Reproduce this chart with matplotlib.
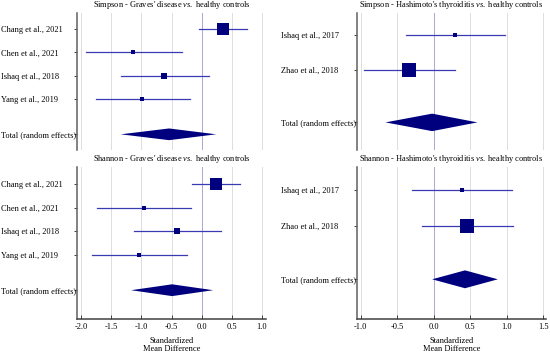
import matplotlib
matplotlib.use("Agg")
import matplotlib.pyplot as plt
import numpy as np

plt.rcParams['font.family'] = ['Liberation Serif', 'DejaVu Serif']
plt.rcParams['mathtext.fontset'] = 'custom'
plt.rcParams['mathtext.rm'] = 'Liberation Serif'
plt.rcParams['mathtext.it'] = 'Liberation Serif:italic'

# Graves' disease studies
graves_studies = ["Chang et al., 2021", "Chen et al., 2021", "Ishaq et al., 2018", "Yang et al., 2019"]
simpson_graves_smd = [0.35, -1.13, -0.62, -0.99]
simpson_graves_lo = [-0.05, -1.92, -1.34, -1.75]
simpson_graves_hi = [0.75, -0.32, 0.12, -0.20]
simpson_graves_w = [65, 7, 16, 11]
simpson_graves_total = (-0.54, -1.34, 0.24)

shannon_graves_smd = [0.23, -0.96, -0.41, -1.04]
shannon_graves_lo = [-0.16, -1.74, -1.12, -1.81]
shannon_graves_hi = [0.64, -0.17, 0.32, -0.25]
shannon_graves_w = [70, 7, 14, 9]
shannon_graves_total = (-0.49, -1.17, 0.19)

# Hashimoto's thyroiditis studies
hashi_studies = ["Ishaq et al., 2017", "Zhao et al., 2018"]
simpson_hashi_smd = [0.29, -0.34]
simpson_hashi_lo = [-0.38, -0.96]
simpson_hashi_hi = [0.98, 0.29]
simpson_hashi_w = [6, 94]
simpson_hashi_total = (-0.02, -0.66, 0.60)

shannon_hashi_smd = [0.39, 0.46]
shannon_hashi_lo = [-0.30, -0.16]
shannon_hashi_hi = [1.07, 1.09]
shannon_hashi_w = [8, 92]
shannon_hashi_total = (0.43, -0.02, 0.88)

graves_ticks = [-2.0, -1.5, -1.0, -0.5, 0.0, 0.5, 1.0]
hashi_ticks = [-1.0, -0.5, 0.0, 0.5, 1.0, 1.5]

W, H = 550, 355
fig = plt.figure(figsize=(W / 100, H / 100), dpi=100)

NAVY = '#00007f'
LINE = '#3a3ab4'
FS = 6


def forest(px, title, studies, smd, lo, hi, wts, total, ticks, xlim, ylim,
           bottom, label_pad):
    x0, y0, x1, y1 = px
    ax = fig.add_axes([x0 / W, 1 - y1 / H, (x1 - x0) / W, (y1 - y0) / H])
    n = len(studies)
    ys = list(range(n))
    ytot = n - 1 + 1.5
    for t in ticks:
        ax.axvline(t, color='#a8a8d4' if t == 0 else '#dcdce4', lw=0.7, zorder=0)
    for y, m, l, h, w in zip(ys, smd, lo, hi, wts):
        ax.plot([l, h], [y, y], color=LINE, lw=0.9, zorder=2)
        ax.plot(m, y, marker='s', color=NAVY, ms=1.07 * np.sqrt(w), mew=0, zorder=3)
    c, l, h = total
    ax.fill([l, c, h, c], [ytot, ytot - 0.25, ytot, ytot + 0.25], color=NAVY, lw=0, zorder=3)
    ax.set_xlim(*xlim)
    ax.set_ylim(*ylim)
    ax.set_yticks(ys + [ytot])
    ax.set_yticklabels(studies + ["Total (random effects)"], ha='left', fontsize=FS)
    ax.tick_params(axis='y', direction='out', length=2.5, width=0.7, color='#404040',
                   pad=label_pad)
    for s in ['top', 'right']:
        ax.spines[s].set_visible(False)
    ax.spines['left'].set_color('#606060')
    ax.spines['left'].set_linewidth(1.1)
    if bottom:
        ax.set_xticks(ticks)
        ax.set_xticklabels([f"{t:.1f}" for t in ticks], fontsize=FS)
        ax.tick_params(axis='x', direction='in', length=3, width=0.7, color='#404040', pad=3)
        ax.spines['bottom'].set_color('#404040')
        ax.spines['bottom'].set_linewidth(1.1)
        ax.set_xlabel("Standardized\nMean Difference", fontsize=FS, labelpad=4, linespacing=1.1)
    else:
        ax.spines['bottom'].set_visible(False)
        ax.set_xticks([])
    fig.text((x0 + x1) / 2 / W, 1 - (y0 - 8) / H, title, ha='center', va='center',
             fontsize=FS)
    return ax


gx = (77, 266)
hx = (357, 546)
forest((gx[0], 13, gx[1], 150), r"Simpson - Graves' disease $\it{vs.}$ healthy controls",
       graves_studies, simpson_graves_smd, simpson_graves_lo, simpson_graves_hi,
       simpson_graves_w, simpson_graves_total, graves_ticks, (-2.066, 1.066),
       (5.17, -0.68), False, 52)
forest((gx[0], 167, gx[1], 319), r"Shannon - Graves' disease $\it{vs.}$ healthy controls",
       graves_studies, shannon_graves_smd, shannon_graves_lo, shannon_graves_hi,
       shannon_graves_w, shannon_graves_total, graves_ticks, (-2.066, 1.066),
       (5.72, -0.72), True, 52)
forest((hx[0], 13, hx[1], 150), r"Simpson - Hashimoto's thyroiditis $\it{vs.}$ healthy controls",
       hashi_studies, simpson_hashi_smd, simpson_hashi_lo, simpson_hashi_hi,
       simpson_hashi_w, simpson_hashi_total, hashi_ticks, (-1.05, 1.54),
       (3.29, -0.63), False, 52)
forest((hx[0], 167, hx[1], 319), r"Shannon - Hashimoto's thyroiditis $\it{vs.}$ healthy controls",
       hashi_studies, shannon_hashi_smd, shannon_hashi_lo, shannon_hashi_hi,
       shannon_hashi_w, shannon_hashi_total, hashi_ticks, (-1.05, 1.54),
       (3.61, -0.64), True, 52)

fig.savefig("out.png", dpi=100)
